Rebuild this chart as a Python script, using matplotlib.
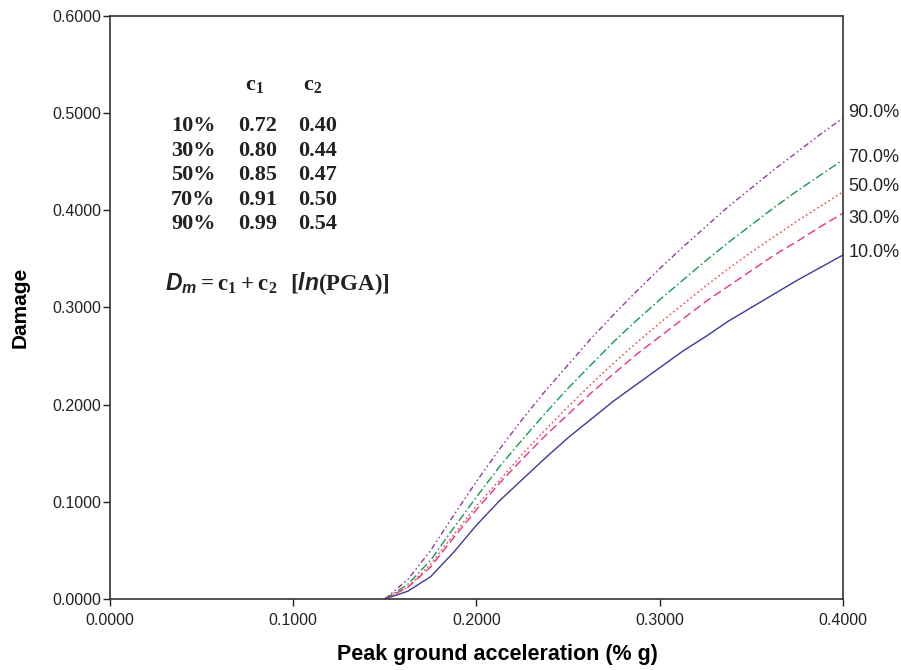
import matplotlib
matplotlib.use("Agg")
import matplotlib.pyplot as plt

# peak ground acceleration (g) and damage
pga = [0.15, 0.1625, 0.175, 0.1875, 0.2, 0.2125, 0.225, 0.2375, 0.25, 0.2625,
       0.275, 0.2875, 0.3, 0.3125, 0.325, 0.3375, 0.35, 0.3625, 0.375, 0.3875, 0.4]

d10 = [0.0, 0.008, 0.023, 0.048, 0.076, 0.101, 0.123, 0.145, 0.166, 0.185,
       0.204, 0.221, 0.238, 0.255, 0.270, 0.286, 0.300, 0.314, 0.328, 0.341, 0.354]
d30 = [0.0, 0.012, 0.033, 0.063, 0.092, 0.119, 0.144, 0.168, 0.190, 0.212,
       0.232, 0.252, 0.270, 0.288, 0.306, 0.322, 0.338, 0.354, 0.368, 0.383, 0.397]
d50 = [0.0, 0.012, 0.036, 0.066, 0.096, 0.122, 0.149, 0.174, 0.198, 0.221,
       0.243, 0.264, 0.284, 0.303, 0.322, 0.340, 0.357, 0.373, 0.389, 0.404, 0.419]
d70 = [0.0, 0.015, 0.040, 0.073, 0.105, 0.136, 0.164, 0.191, 0.217, 0.241,
       0.265, 0.287, 0.308, 0.328, 0.348, 0.367, 0.385, 0.403, 0.420, 0.436, 0.452]
d90 = [0.0, 0.020, 0.050, 0.086, 0.121, 0.154, 0.185, 0.214, 0.241, 0.268,
       0.293, 0.317, 0.340, 0.362, 0.383, 0.404, 0.423, 0.442, 0.460, 0.478, 0.495]

series = [d10, d30, d50, d70, d90]
end_labels = ["10.0%", "30.0%", "50.0%", "70.0%", "90.0%"]
label_dy = [2, -4, 4, 2, 4]  # points, nudges so the labels don't overlap

colors = ["#3a3a9c", "#ec2f8c", "#f0403a", "#109c50", "#8e3a9e"]
styles = ["-", (0, (6, 3)), (0, (1.2, 2)), (0, (6, 2, 1.2, 2)),
          (0, (4, 2, 1.2, 2, 1.2, 2))]

# coefficient table
pct = ["10%", "30%", "50%", "70%", "90%"]
c1 = ["0.72", "0.80", "0.85", "0.91", "0.99"]
c2 = ["0.40", "0.44", "0.47", "0.50", "0.54"]

plt.rcParams["font.family"] = ["Liberation Sans", "DejaVu Sans"]
plt.rcParams["mathtext.fontset"] = "custom"
plt.rcParams["mathtext.rm"] = "Liberation Serif:bold"
plt.rcParams["mathtext.it"] = "Liberation Sans:bold:italic"
plt.rcParams["mathtext.bf"] = "Liberation Serif:bold"

fig = plt.figure(figsize=(9.01, 6.70), dpi=100)
ax = fig.add_axes([0.1221, 0.106, 0.8135, 0.8701])

for d, c, ls, lab, dy in zip(series, colors, styles, end_labels, label_dy):
    ax.plot(pga, d, color=c, linestyle=ls, linewidth=1.0)
    ax.annotate(lab, xy=(pga[-1], d[-1]), xytext=(4, dy),
                textcoords="offset points", va="center", ha="left",
                fontsize=13, color="#222222", annotation_clip=False)

ax.set_xlim(0, 0.4)
ax.set_ylim(0, 0.6)
ax.set_xticks([0.0, 0.1, 0.2, 0.3, 0.4])
ax.set_yticks([0.0, 0.1, 0.2, 0.3, 0.4, 0.5, 0.6])
ax.xaxis.set_major_formatter(matplotlib.ticker.FormatStrFormatter("%.4f"))
ax.yaxis.set_major_formatter(matplotlib.ticker.FormatStrFormatter("%.4f"))
ax.tick_params(direction="out", length=5, width=1, labelsize=11.5,
               colors="#222222")
ax.tick_params(axis="y", pad=1.5)
ax.tick_params(axis="x", pad=5)
for s in ax.spines.values():
    s.set_color("#333333")
    s.set_linewidth(1.2)

ax.set_xlabel("Peak ground acceleration (% g)", fontsize=15.5,
              fontweight="bold")
ax.xaxis.set_label_coords(0.529, -0.078)
ax.set_ylabel("Damage", fontsize=15, fontweight="bold", labelpad=16)

# table of coefficients
tf = dict(family="Liberation Serif", fontweight="bold", fontsize=16,
          color="#222222", va="center", transform=fig.transFigure)
fig.text(255 / 901, 1 - 86 / 670, r"c$_1$", ha="center", **tf)
fig.text(313 / 901, 1 - 86 / 670, r"c$_2$", ha="center", **tf)
for i in range(len(pct)):
    y = 1 - (126 + 24.5 * i) / 670
    fig.text(171 / 901, y, pct[i], ha="left", **tf)
    fig.text(238 / 901, y, c1[i], ha="left", **tf)
    fig.text(298 / 901, y, c2[i], ha="left", **tf)

fig.text(165 / 901, 1 - 284 / 670,
         r"$D_m = \mathrm{c}_1 + \mathrm{c}_2\ \ [\mathit{ln}(\mathrm{PGA})]$",
         ha="left", va="center", fontsize=16.5, color="#222222")

fig.savefig("out.png", dpi=100)
